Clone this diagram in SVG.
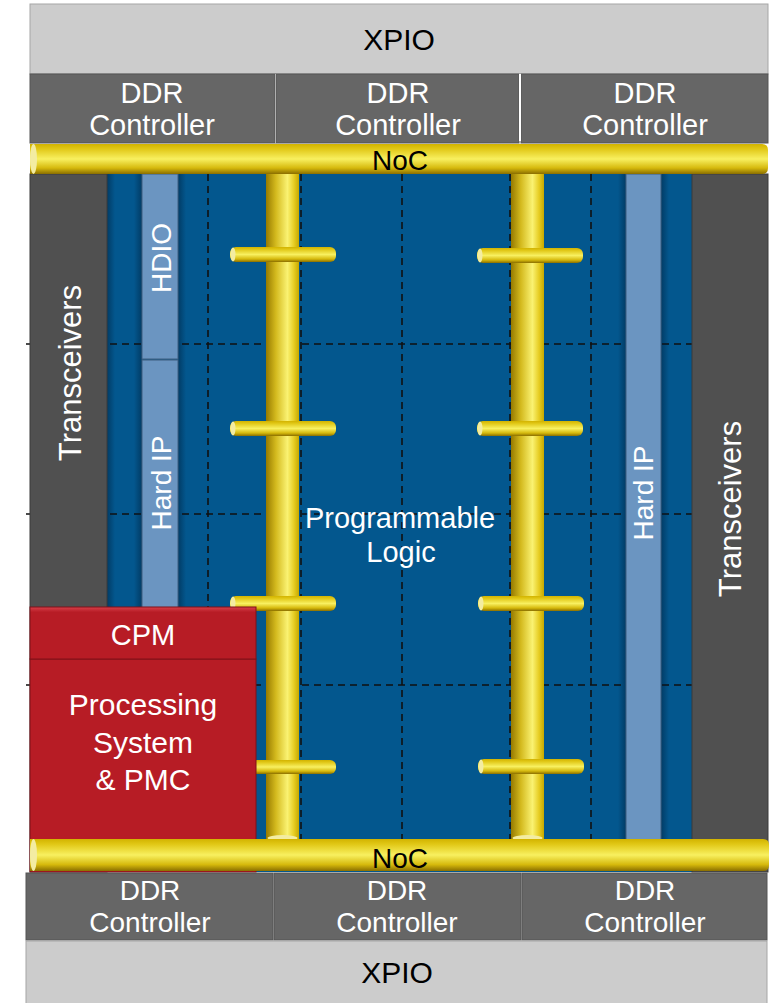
<svg xmlns="http://www.w3.org/2000/svg" width="777" height="1003" viewBox="0 0 777 1003">
<defs>
<style>
.lbl{font-family:"Liberation Sans",Arial,sans-serif;fill:#ffffff;text-anchor:middle}
.dk{fill:#000000}
.grid line{stroke:#111111;stroke-width:1.6;stroke-dasharray:7 5}
.ddr{fill:#666666;stroke:#555555;stroke-width:1}
.xpio{fill:#cccccc;stroke:#a6a6a6;stroke-width:1}
.xcvr{fill:#505050;stroke:#3a3a3a;stroke-width:1}
.bar{fill:#6b95c1;stroke:#3f5f80;stroke-width:1}
.red{fill:#b71c25;stroke:#7e1118;stroke-width:1}
.cap{fill:#f3eca2}
</style>
<linearGradient id="hpipe" x1="0" y1="0" x2="0" y2="1">
<stop offset="0" stop-color="#d2b300"/>
<stop offset="0.15" stop-color="#e0c614"/>
<stop offset="0.5" stop-color="#f8f060"/>
<stop offset="0.8" stop-color="#d6b90c"/>
<stop offset="1" stop-color="#8a6e00"/>
</linearGradient>
<linearGradient id="vpipe" x1="0" y1="0" x2="1" y2="0">
<stop offset="0" stop-color="#967a00"/>
<stop offset="0.3" stop-color="#d4ba1e"/>
<stop offset="0.65" stop-color="#faf272"/>
<stop offset="0.85" stop-color="#e6cc22"/>
<stop offset="1" stop-color="#c6a800"/>
</linearGradient>
<linearGradient id="shL" x1="0" y1="0" x2="1" y2="0">
<stop offset="0" stop-color="#001a33" stop-opacity="0"/>
<stop offset="1" stop-color="#001a33" stop-opacity="0.45"/>
</linearGradient>
<linearGradient id="shR" x1="0" y1="0" x2="1" y2="0">
<stop offset="0" stop-color="#001a33" stop-opacity="0.45"/>
<stop offset="1" stop-color="#001a33" stop-opacity="0"/>
</linearGradient>
<linearGradient id="redTop" x1="0" y1="0" x2="0" y2="1">
<stop offset="0" stop-color="#d8404a"/>
<stop offset="0.1" stop-color="#b71c25"/>
<stop offset="1" stop-color="#b71c25"/>
</linearGradient>
</defs>

<g id="programmable-logic">
<rect x="30" y="174" width="738" height="698" fill="#03578e"/>
</g>

<g id="grid" class="grid">
<line x1="26" y1="344" x2="692" y2="344"/>
<line x1="26" y1="514" x2="692" y2="514"/>
<line x1="26" y1="685" x2="692" y2="685"/>
<line x1="208" y1="174" x2="208" y2="840"/>
<line x1="301" y1="174" x2="301" y2="840"/>
<line x1="402" y1="174" x2="402" y2="840"/>
<line x1="510" y1="174" x2="510" y2="840"/>
<line x1="591" y1="174" x2="591" y2="840"/>
</g>

<g id="shadows">
<rect x="107" y="174" width="8" height="698" fill="url(#shR)"/>
<rect x="134" y="174" width="8" height="433" fill="url(#shL)"/>
<rect x="178" y="174" width="8" height="433" fill="url(#shR)"/>
<rect x="618" y="174" width="8" height="666" fill="url(#shL)"/>
<rect x="661" y="174" width="8" height="666" fill="url(#shR)"/>
</g>

<g id="hdio">
<rect class="bar" x="142" y="174" width="36" height="185"/>
<text class="lbl" font-size="28" transform="translate(161,258) rotate(-90)" y="10">HDIO</text>
</g>
<g id="hard-ip-left">
<rect class="bar" x="142" y="360" width="36" height="260"/>
<text class="lbl" font-size="28" transform="translate(161,483) rotate(-90)" y="10">Hard IP</text>
</g>
<g id="hard-ip-right">
<rect class="bar" x="626" y="174" width="35" height="666"/>
<text class="lbl" font-size="28" transform="translate(643,493) rotate(-90)" y="10">Hard IP</text>
</g>

<g id="transceivers-left">
<rect class="xcvr" x="30" y="174" width="77" height="698"/>
<text class="lbl" font-size="31" transform="translate(70,373) rotate(-90)" y="11">Transceivers</text>
</g>
<g id="transceivers-right">
<rect class="xcvr" x="692" y="174" width="76" height="698"/>
<text class="lbl" font-size="31" transform="translate(730,509) rotate(-90)" y="11">Transceivers</text>
</g>

<g id="connectors">
<rect x="266" y="174" width="33" height="668" fill="url(#vpipe)"/>
<rect x="511" y="174" width="33" height="668" fill="url(#vpipe)"/>
<ellipse class="cap" cx="282.5" cy="838" rx="15" ry="3"/>
<ellipse class="cap" cx="527.5" cy="838" rx="15" ry="3"/>
<rect x="230" y="247" width="106" height="15" rx="6" fill="url(#hpipe)"/>
<rect x="230" y="421" width="106" height="15" rx="6" fill="url(#hpipe)"/>
<rect x="230" y="596" width="106" height="15" rx="6" fill="url(#hpipe)"/>
<rect x="230" y="760" width="106" height="14" rx="6" fill="url(#hpipe)"/>
<rect x="477" y="248" width="106" height="15" rx="6" fill="url(#hpipe)"/>
<rect x="477" y="421" width="106" height="15" rx="6" fill="url(#hpipe)"/>
<rect x="478" y="596" width="106" height="15" rx="6" fill="url(#hpipe)"/>
<rect x="478" y="759" width="106" height="15" rx="6" fill="url(#hpipe)"/>
<ellipse class="cap" cx="233" cy="254.5" rx="2.5" ry="7"/>
<ellipse class="cap" cx="233" cy="428.5" rx="2.5" ry="7"/>
<ellipse class="cap" cx="233" cy="603.5" rx="2.5" ry="7"/>
<ellipse class="cap" cx="480" cy="255.5" rx="2.5" ry="7"/>
<ellipse class="cap" cx="480" cy="428.5" rx="2.5" ry="7"/>
<ellipse class="cap" cx="481" cy="603.5" rx="2.5" ry="7"/>
<ellipse class="cap" cx="481" cy="766.5" rx="2.5" ry="7"/>
</g>

<g id="pl-label">
<text class="lbl" font-size="29" x="400" y="528">Programmable</text>
<text class="lbl" font-size="29" x="401" y="562">Logic</text>
</g>

<g id="processing-system">
<rect class="red" x="30" y="659" width="226" height="213"/>
<text class="lbl" font-size="30" x="143" y="715">Processing</text>
<text class="lbl" font-size="30" x="143" y="753">System</text>
<text class="lbl" font-size="30" x="143" y="790">&amp; PMC</text>
</g>
<g id="cpm">
<rect x="30" y="607" width="226" height="52" fill="url(#redTop)" stroke="#7e1118" stroke-width="1"/>
<text class="lbl" font-size="29" x="143" y="645">CPM</text>
</g>

<g id="noc-top">
<path d="M30,144 H762 Q768,144 768,150 V168 Q768,174 762,174 H30 Z" fill="url(#hpipe)"/>
<ellipse class="cap" cx="33.5" cy="159" rx="3.5" ry="15"/>
<text class="lbl dk" font-size="28" x="400" y="170">NoC</text>
</g>
<g id="noc-bottom">
<path d="M30,839 H763 Q769,839 769,845 V865 Q769,871 763,871 H30 Z" fill="url(#hpipe)"/>
<ellipse class="cap" cx="33.5" cy="855" rx="3.5" ry="16"/>
<text class="lbl dk" font-size="28" x="400" y="868">NoC</text>
</g>

<g id="xpio-top">
<rect class="xpio" x="30" y="4" width="738" height="70"/>
<text class="lbl dk" font-size="30" x="399" y="50">XPIO</text>
</g>
<g id="ddr-top-1">
<rect class="ddr" x="30" y="74" width="245" height="69"/>
<text class="lbl" font-size="29" x="152" y="103">DDR</text>
<text class="lbl" font-size="29" x="152" y="135">Controller</text>
</g>
<g id="ddr-top-2">
<rect class="ddr" x="276" y="74" width="243" height="69"/>
<text class="lbl" font-size="29" x="398" y="103">DDR</text>
<text class="lbl" font-size="29" x="398" y="135">Controller</text>
</g>
<g id="ddr-top-3">
<rect class="ddr" x="521" y="74" width="247" height="69"/>
<text class="lbl" font-size="29" x="645" y="103">DDR</text>
<text class="lbl" font-size="29" x="645" y="135">Controller</text>
</g>
<line x1="275.5" y1="74" x2="275.5" y2="143" stroke="#b0b0b0" stroke-width="1"/>
<line x1="520" y1="74" x2="520" y2="141" stroke="#ffffff" stroke-width="2"/>

<g id="ddr-bottom-1">
<rect class="ddr" x="26" y="873" width="247" height="67"/>
<text class="lbl" font-size="28" x="150" y="900">DDR</text>
<text class="lbl" font-size="28" x="150" y="932">Controller</text>
</g>
<g id="ddr-bottom-2">
<rect class="ddr" x="274" y="873" width="247" height="67"/>
<text class="lbl" font-size="28" x="397" y="900">DDR</text>
<text class="lbl" font-size="28" x="397" y="932">Controller</text>
</g>
<g id="ddr-bottom-3">
<rect class="ddr" x="522" y="873" width="245" height="67"/>
<text class="lbl" font-size="28" x="645" y="900">DDR</text>
<text class="lbl" font-size="28" x="645" y="932">Controller</text>
</g>
<g id="xpio-bottom">
<rect class="xpio" x="26" y="941" width="741" height="66"/>
<text class="lbl dk" font-size="30" x="397" y="983">XPIO</text>
</g>
</svg>
